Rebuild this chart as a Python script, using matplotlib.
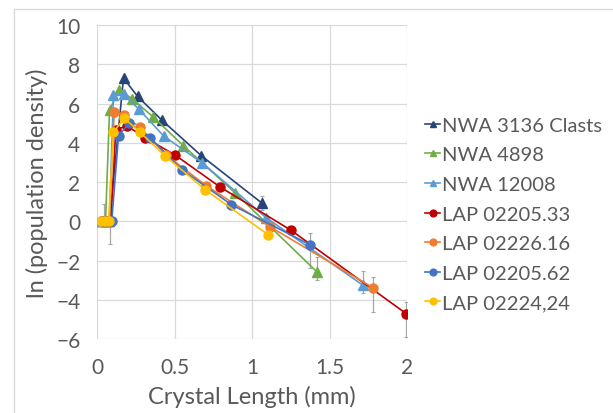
import matplotlib
matplotlib.use("Agg")
import matplotlib.pyplot as plt
from matplotlib.patches import Rectangle

# -----------------------
# Data
# -----------------------
names = ["NWA 3136 Clasts", "NWA 4898", "NWA 12008", "LAP 02205.33",
         "LAP 02226.16", "LAP 02205.62", "LAP 02224,24"]
colors = ["#264478", "#70AD47", "#5B9BD5", "#C00000", "#ED7D31", "#4472C4", "#FFC000"]
markers = ["^", "^", "^", "o", "o", "o", "o"]

x_nwa3136 = [0.03, 0.055, 0.08, 0.171, 0.262, 0.42, 0.673, 1.063]
y_nwa3136 = [0, 0, 0, 7.29, 6.36, 5.14, 3.34, 0.93]
x_nwa4898 = [0.03, 0.055, 0.081, 0.144, 0.227, 0.363, 0.557, 0.892, 1.42]
y_nwa4898 = [0, 0, 5.68, 6.69, 6.24, 5.31, 3.85, 1.44, -2.59]
x_nwa12008 = [0.03, 0.055, 0.08, 0.106, 0.171, 0.27, 0.433, 0.68, 1.093, 1.718]
y_nwa12008 = [0, 0, 0, 6.44, 6.47, 5.71, 4.32, 2.97, 0.17, -3.27]
x_lap33 = [0.03, 0.06, 0.09, 0.121, 0.194, 0.312, 0.501, 0.793, 1.252, 1.995]
y_lap33 = [0, 0, 0, 4.66, 4.86, 4.24, 3.39, 1.75, -0.46, -4.71]
x_lap16 = [0.025, 0.05, 0.08, 0.111, 0.176, 0.277, 0.443, 0.705, 1.118, 1.781]
y_lap16 = [0, 0, 0, 5.56, 5.39, 4.78, 3.39, 1.81, -0.29, -3.39]
x_lap62 = [0.03, 0.06, 0.095, 0.139, 0.207, 0.345, 0.547, 0.866, 1.373]
y_lap62 = [0, 0, 0, 4.36, 5.0, 4.24, 2.63, 0.85, -1.19]
x_lap24 = [0.025, 0.05, 0.075, 0.106, 0.176, 0.277, 0.438, 0.698, 1.103]
y_lap24 = [0, 0, 0, 4.54, 5.25, 4.54, 3.34, 1.61, -0.68]

xs = [x_nwa3136, x_nwa4898, x_nwa12008, x_lap33, x_lap16, x_lap62, x_lap24]
ys = [y_nwa3136, y_nwa4898, y_nwa12008, y_lap33, y_lap16, y_lap62, y_lap24]

# error bars: (x, y, lower, upper)
err_x = [0.045, 0.084, 1.063, 1.373, 1.42, 1.718, 1.781, 1.995]
err_y = [0, 0, 0.93, -1.19, -2.59, -3.27, -3.37, -4.71]
err_lo = [0, 1.15, 0.35, 1.2, 0.4, 0.4, 1.25, 1.2]
err_hi = [0.87, 0, 0.35, 0.6, 0.75, 0.75, 0.55, 0.6]

# -----------------------
# Plot
# -----------------------
plt.rcParams["font.family"] = ["Lato", "DejaVu Sans"]
fig = plt.figure(figsize=(6.13, 4.14), dpi=100)
fig.patches.append(Rectangle((14 / 613, -0.1), 1.2, 1 - 10 / 414 + 0.1,
                             transform=fig.transFigure, fill=False,
                             edgecolor="#d9d9d9", linewidth=1))
ax = fig.add_axes([97 / 613, (414 - 340) / 414, 310 / 613, 314 / 414])

ax.errorbar(err_x, err_y, yerr=[err_lo, err_hi], fmt="none", ecolor="#a6a6a6",
            elinewidth=0.9, capsize=1.5, capthick=0.8, zorder=2)

for x, y, c, m, n in zip(xs, ys, colors, markers, names):
    ax.plot(x, y, color=c, marker=m, markersize=6.5, linewidth=1.2, label=n, zorder=3)

ax.set_xlim(0, 2)
ax.set_ylim(-6, 10)
ax.set_xticks([0, 0.5, 1, 1.5, 2])
ax.set_xticklabels(["0", "0.5", "1", "1.5", "2"])
ax.set_yticks(range(-6, 11, 2))
ax.grid(True, color="#d9d9d9", linewidth=0.9)
ax.set_axisbelow(True)
for s in ax.spines.values():
    s.set_visible(False)
ax.tick_params(axis="both", length=0, labelsize=15, labelcolor="#595959")
ax.tick_params(axis="y", pad=12)
ax.tick_params(axis="x", pad=13)
ax.set_xlabel("Crystal Length (mm)", fontsize=17, color="#595959", labelpad=6)
ax.set_ylabel("ln (population density)", fontsize=17, color="#595959", labelpad=6)

leg = ax.legend(loc="center left", bbox_to_anchor=(425 / 613, (414 - 215) / 414),
                bbox_transform=fig.transFigure, frameon=False, borderpad=0,
                borderaxespad=0, fontsize=14.5, labelcolor="#595959",
                handlelength=0.75, handletextpad=0.1, labelspacing=0.62,
                markerscale=0.75)

plt.savefig("out.png", dpi=100)
plt.close()
